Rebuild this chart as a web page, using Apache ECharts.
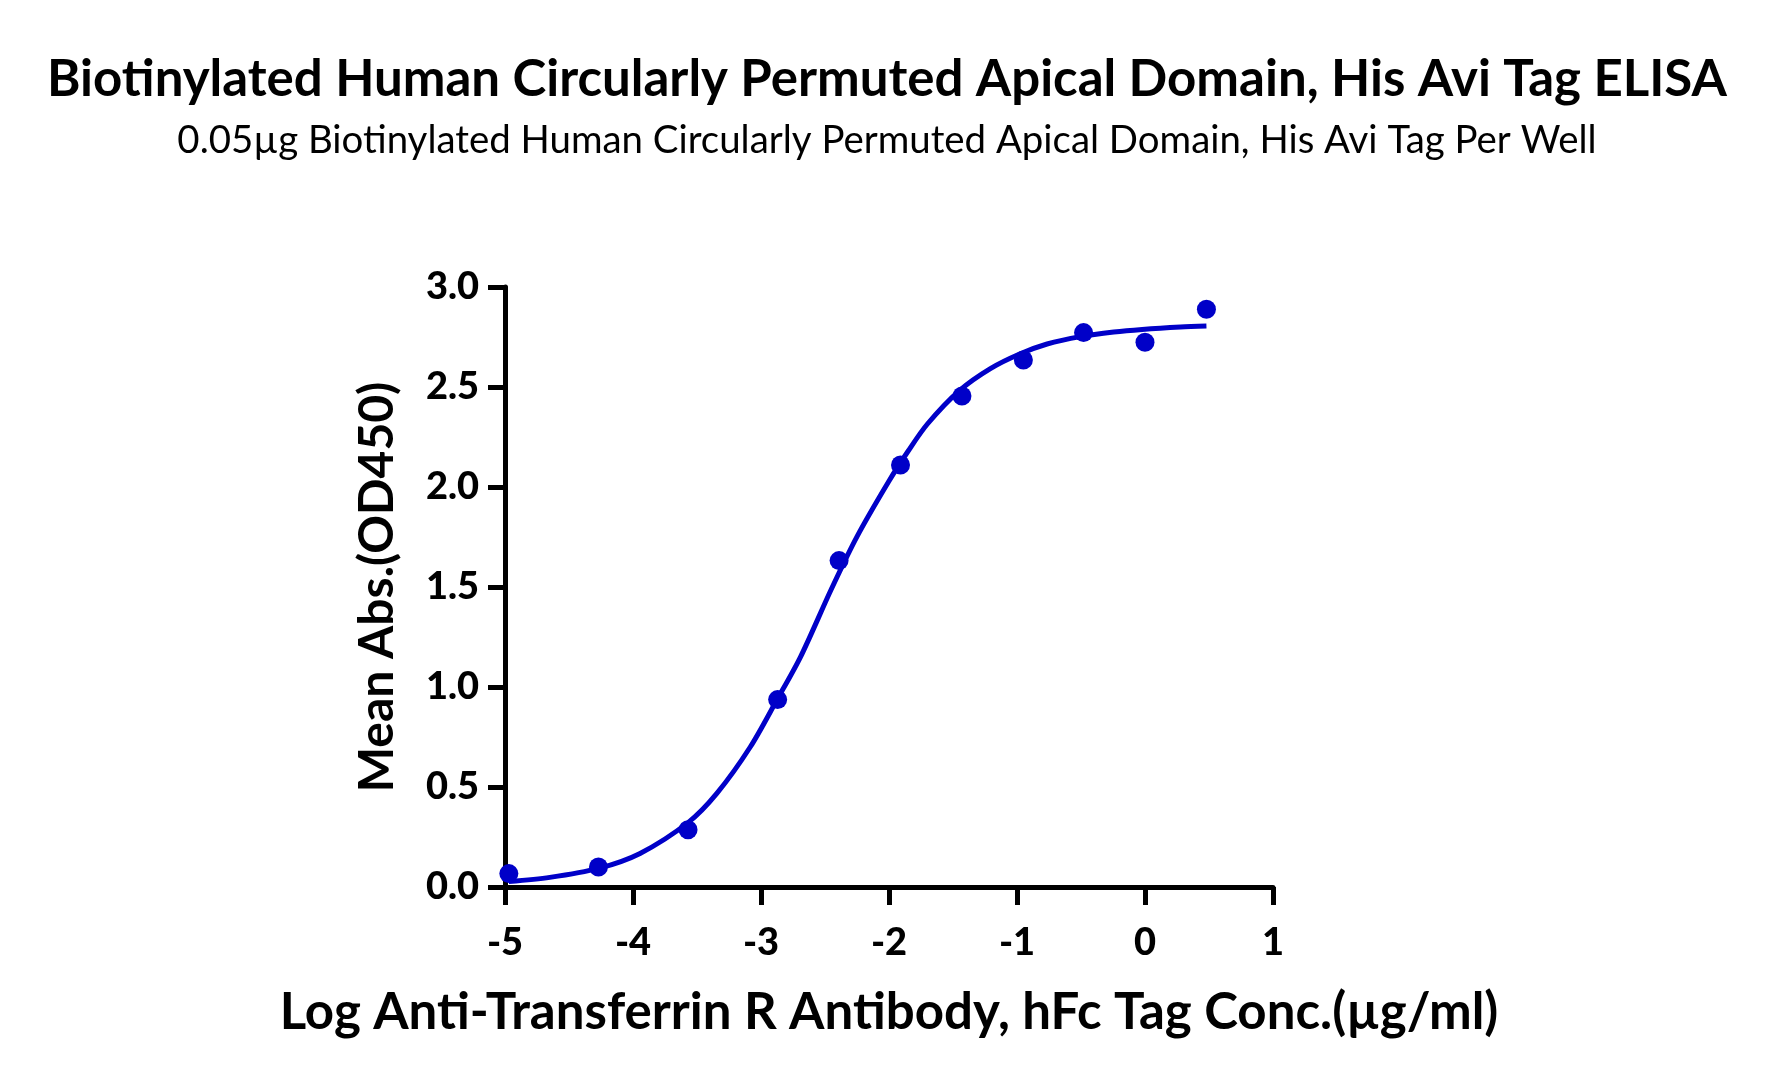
<!DOCTYPE html>
<html>
<head>
<meta charset="utf-8">
<script src="https://cdn.jsdelivr.net/npm/echarts@6/dist/echarts.min.js"></script>
<style>
html,body{margin:0;padding:0;background:#fff;}
#chart{width:1774px;height:1086px;}
</style>
</head>
<body>
<div id="chart"></div>
<script>
// Measured points (log concentration, mean OD450)
const pointX = [-4.97, -4.27, -3.57, -2.87, -2.39, -1.91, -1.43, -0.95, -0.48, 0.0, 0.48];
const pointY = [0.067, 0.100, 0.286, 0.937, 1.632, 2.110, 2.455, 2.635, 2.772, 2.724, 2.889];

// Fitted curve
const curveX = [-4.97, -4.65, -4.27, -3.945, -3.57, -3.345, -3.084, -2.876, -2.69, -2.45, -2.25, -2.0, -1.85, -1.70, -1.45, -1.208, -0.979, -0.765, -0.504, -0.244, -0.022, 0.277, 0.48];
const curveY = [0.027, 0.048, 0.093, 0.168, 0.322, 0.468, 0.700, 0.935, 1.152, 1.490, 1.752, 2.030, 2.180, 2.315, 2.482, 2.592, 2.665, 2.715, 2.752, 2.775, 2.788, 2.800, 2.805];

const xTicks = [-5, -4, -3, -2, -1, 0, 1];
const yTicks = [0.0, 0.5, 1.0, 1.5, 2.0, 2.5, 3.0];

const titleText = 'Biotinylated Human Circularly Permuted Apical Domain, His Avi Tag ELISA';
const subtitleText = '0.05\u00b5g Biotinylated Human Circularly Permuted Apical Domain, His Avi Tag Per Well';
const xName = 'Log Anti-Transferrin R Antibody, hFc Tag Conc.(\u00b5g/ml)';
const yName = 'Mean Abs.(OD450)';

const FONT = 'Lato';
const BLUE = '#0000C8';

const chart = echarts.init(document.getElementById('chart'), null, {renderer: 'canvas'});
chart.setOption({
  backgroundColor: '#ffffff',
  animation: false,
  title: [
    {text: titleText, left: 'center', top: 49,
     textStyle: {fontFamily: FONT, fontWeight: 'bold', fontSize: 51, color: '#000'}},
    {text: subtitleText, left: 'center', top: 117,
     textStyle: {fontFamily: FONT, fontWeight: 'normal', fontSize: 38.4, color: '#000'}}
  ],
  grid: {left: 505, right: 501, top: 287, bottom: 199, containLabel: false},
  xAxis: {
    type: 'value', min: xTicks[0], max: xTicks[xTicks.length - 1], interval: 1,
    name: xName, nameLocation: 'middle', nameGap: 100,
    nameTextStyle: {fontFamily: FONT, fontWeight: 'bold', fontSize: 51, color: '#000'},
    axisLine: {show: true, onZero: false, lineStyle: {color: '#000', width: 5}},
    axisTick: {show: true, inside: false, length: 18, lineStyle: {color: '#000', width: 5}},
    axisLabel: {fontFamily: FONT, fontWeight: 900, fontSize: 38, color: '#000', margin: 37},
    splitLine: {show: false}
  },
  yAxis: {
    type: 'value', min: yTicks[0], max: yTicks[yTicks.length - 1], interval: 0.5,
    name: yName, nameLocation: 'middle', nameGap: 103, nameRotate: 90,
    nameTextStyle: {fontFamily: FONT, fontWeight: 'bold', fontSize: 48, color: '#000'},
    axisLine: {show: true, onZero: false, lineStyle: {color: '#000', width: 5}},
    axisTick: {show: true, inside: false, length: 17, lineStyle: {color: '#000', width: 5}},
    axisLabel: {fontFamily: FONT, fontWeight: 900, fontSize: 38, color: '#000', margin: 26,
      formatter: v => v.toFixed(1)},
    splitLine: {show: false}
  },
  series: [
    {type: 'line', data: curveX.map((x, i) => [x, curveY[i]]), smooth: 0.3,
     showSymbol: false, lineStyle: {color: BLUE, width: 5}, z: 2},
    {type: 'scatter', data: pointX.map((x, i) => [x, pointY[i]]),
     symbol: 'circle', symbolSize: 19, itemStyle: {color: BLUE, opacity: 1}, z: 3}
  ]
});
</script>
</body>
</html>
